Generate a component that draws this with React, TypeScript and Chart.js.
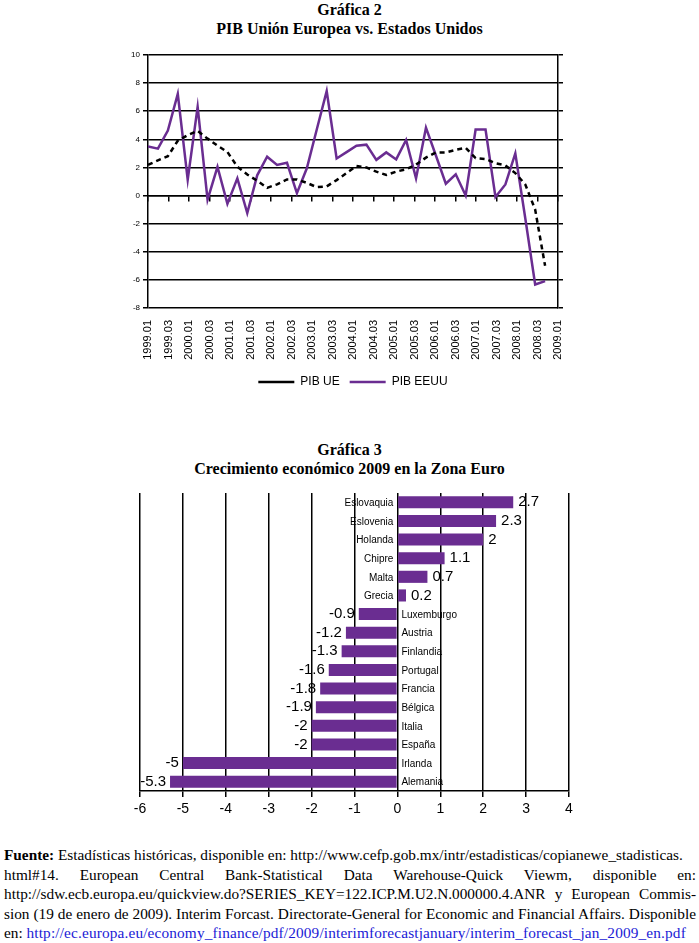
import React, { useEffect, useRef } from 'react';
import { Chart, registerables } from 'chart.js';

Chart.register(...registerables);

// ---------- Data: Gráfica 2 ----------
const quarterTickLabels = [
  '1999.01', '1999.03', '2000.01', '2000.03', '2001.01', '2001.03', '2002.01',
  '2002.03', '2003.01', '2003.03', '2004.01', '2004.03', '2005.01', '2005.03',
  '2006.01', '2006.03', '2007.01', '2007.03', '2008.01', '2008.03', '2009.01',
];

// quarterly values, 1999 Q1 .. 2009 Q1
const pibUE = [
  2.18, 2.5, 2.8, 3.9, 4.3, 4.6, 4.05, 3.55, 3.1, 2.05,
  1.5, 1.05, 0.55, 0.8, 1.15, 1.15, 0.9, 0.6, 0.65, 1.1,
  1.6, 2.1, 2.0, 1.7, 1.46, 1.7, 1.87, 2.2, 2.7, 3.07,
  3.07, 3.25, 3.4, 2.66, 2.6, 2.3, 2.15, 1.6, 0.8, -1.0,
  -5.0,
];
const pibEEUU = [
  3.5, 3.34, 4.63, 7.23, 1.13, 6.31, -0.29, 2.04, -0.58, 1.22,
  -1.25, 1.44, 2.76, 2.18, 2.33, 0.17, 1.94, 4.7, 7.43, 2.64,
  3.09, 3.55, 3.62, 2.54, 3.07, 2.57, 3.96, 1.22, 4.83, 2.85,
  0.84, 1.51, 0.0, 4.7, 4.7, -0.1, 0.79, 3.0, -1.6, -6.33,
  -6.09,
];

// ---------- Data: Gráfica 3 ----------
const countries = [
  'Eslovaquia', 'Eslovenia', 'Holanda', 'Chipre', 'Malta', 'Grecia',
  'Luxemburgo', 'Austria', 'Finlandia', 'Portugal', 'Francia', 'Bélgica',
  'Italia', 'España', 'Irlanda', 'Alemania',
];
const growth2009 = [
  2.7, 2.3, 2, 1.1, 0.7, 0.2, -0.9, -1.2, -1.3, -1.6, -1.8, -1.9, -2, -2, -5, -5.3,
];

const PURPLE = '#6a2d91';
const NARROW = '"Liberation Sans", Arial, sans-serif';
const SERIF = '"Liberation Serif", "Times New Roman", serif';
const X_AXIS_MAX = 41.3; // label axis spans slightly beyond last data point

function setQuarterTicks(scale: any) {
  const n = quarterTickLabels.length - 1;
  scale.ticks = quarterTickLabels.map((_, i) => ({ value: (i * X_AXIS_MAX) / n }));
}

function LineChart() {
  const ref = useRef<HTMLCanvasElement>(null);
  useEffect(() => {
    const chart = new Chart(ref.current!, {
      type: 'line',
      data: {
        datasets: [
          {
            label: 'PIB UE',
            data: pibUE.map((y, i) => ({ x: i, y })),
            borderColor: '#000',
            backgroundColor: '#000',
            borderWidth: 2.5,
            borderDash: [5, 4],
            pointRadius: 0,
            pointStyle: 'line',
            tension: 0,
            fill: false,
          },
          {
            label: 'PIB EEUU',
            data: pibEEUU.map((y, i) => ({ x: i, y })),
            borderColor: PURPLE,
            backgroundColor: PURPLE,
            borderWidth: 2.5,
            pointRadius: 0,
            pointStyle: 'line',
            tension: 0,
            fill: false,
          },
        ],
      },
      options: {
        responsive: false,
        animation: false,
        layout: { padding: { left: 0, right: 131, top: 15, bottom: 2 } },
        scales: {
          x: {
            type: 'linear',
            min: 0,
            max: X_AXIS_MAX,
            afterBuildTicks: setQuarterTicks,
            afterFit: (s: any) => { s.height = 58; },
            ticks: {
              autoSkip: false,
              maxRotation: 90,
              minRotation: 90,
              padding: 4,
              color: '#000',
              font: { family: NARROW, size: 11 },
              callback: (_v: any, i: number) => quarterTickLabels[i],
            },
            grid: { display: false },
            border: { display: false },
          },
          x2: {
            type: 'linear',
            position: { y: 0 } as any,
            min: 0,
            max: X_AXIS_MAX,
            afterBuildTicks: setQuarterTicks,
            ticks: { display: false },
            grid: { drawOnChartArea: false, drawTicks: true, tickLength: 5, color: '#000', lineWidth: 1.5 },
            border: { display: true, color: '#000', width: 1.5 },
          },
          y: {
            min: -8,
            max: 10,
            afterFit: (s: any) => { s.width = 148; },
            ticks: { stepSize: 2, color: '#000', padding: 3, font: { family: NARROW, size: 8 } },
            grid: { color: '#000', lineWidth: 1.5, tickLength: 5 },
            border: { color: '#000', width: 1.5 },
          },
          y2: {
            position: 'right',
            min: -8,
            max: 10,
            afterFit: (s: any) => { s.width = 10; },
            ticks: { display: false, stepSize: 2 },
            grid: { drawOnChartArea: false, color: '#000', lineWidth: 1.5, tickLength: 5 },
            border: { color: '#000', width: 1.5 },
          },
        },
        plugins: {
          legend: {
            position: 'bottom',
            fullSize: false,
            labels: {
              usePointStyle: true,
              pointStyleWidth: 36,
              color: '#000',
              padding: 10,
              font: { family: NARROW, size: 12 },
            },
          },
          tooltip: { enabled: false },
        },
      } as any,
    });
    return () => chart.destroy();
  }, []);
  return (
    <canvas
      ref={ref}
      width={699}
      height={360}
      style={{ position: 'absolute', left: 0, top: 40, width: 699, height: 360 }}
    />
  );
}

const barLabels = {
  id: 'barLabels',
  afterDatasetsDraw(chart: any) {
    const { ctx } = chart;
    const x = chart.scales.x;
    const zero = x.getPixelForValue(0);
    const meta = chart.getDatasetMeta(0);
    ctx.save();
    ctx.fillStyle = '#000';
    ctx.textBaseline = 'middle';
    meta.data.forEach((bar: any, i: number) => {
      const v = growth2009[i];
      ctx.font = `15px ${NARROW}`;
      if (v >= 0) {
        ctx.textAlign = 'left';
        ctx.fillText(String(v), bar.x + 5, bar.y);
      } else {
        ctx.textAlign = 'right';
        ctx.fillText(String(v), bar.x - 4, bar.y);
      }
      ctx.font = `10px ${NARROW}`;
      if (v >= 0) {
        ctx.textAlign = 'right';
        ctx.fillText(countries[i], zero - 4, bar.y + 1);
      } else {
        ctx.textAlign = 'left';
        ctx.fillText(countries[i], zero + 4, bar.y + 1);
      }
    });
    ctx.restore();
  },
};

function BarChart() {
  const ref = useRef<HTMLCanvasElement>(null);
  useEffect(() => {
    const chart = new Chart(ref.current!, {
      type: 'bar',
      data: {
        labels: countries,
        datasets: [
          {
            data: growth2009,
            backgroundColor: PURPLE,
            barPercentage: 0.65,
            categoryPercentage: 1,
          },
        ],
      },
      options: {
        indexAxis: 'y',
        responsive: false,
        animation: false,
        layout: { padding: { left: 140, right: 130, top: 8, bottom: 0 } },
        scales: {
          x: {
            min: -6,
            max: 4,
            afterFit: (s: any) => { s.height = 29; },
            ticks: { stepSize: 1, color: '#000', padding: 4, font: { family: NARROW, size: 14 } },
            grid: { color: '#000', lineWidth: 1.5, tickLength: 6 },
            border: { color: '#000', width: 1.5 },
          },
          y: { display: false },
        },
        plugins: { legend: { display: false }, tooltip: { enabled: false } },
      } as any,
      plugins: [barLabels],
    });
    return () => chart.destroy();
  }, []);
  return (
    <canvas
      ref={ref}
      width={699}
      height={335}
      style={{ position: 'absolute', left: 0, top: 485, width: 699, height: 335 }}
    />
  );
}

const titleStyle: React.CSSProperties = {
  position: 'absolute',
  left: 0,
  width: 699,
  textAlign: 'center',
  fontFamily: SERIF,
  fontWeight: 'bold',
  fontSize: 16,
  lineHeight: '19px',
  color: '#000',
};

const lineStyle = (i: number, justify: boolean): React.CSSProperties => ({
  position: 'absolute',
  left: 4,
  width: 692,
  top: 845 + i * 19.5,
  height: 19.5,
  lineHeight: '19.5px',
  fontFamily: SERIF,
  fontSize: 15.3,
  color: '#000',
  whiteSpace: 'nowrap',
  textAlign: justify ? 'justify' : 'left',
  textAlignLast: justify ? 'justify' : 'left',
  overflow: 'visible',
});

export default function App() {
  return (
    <div style={{ position: 'absolute', left: 0, top: 0, width: 699, height: 943, background: '#fff' }}>
      <div style={{ ...titleStyle, top: 0 }}>Gráfica 2</div>
      <div style={{ ...titleStyle, top: 19 }}>PIB Unión Europea vs. Estados Unidos</div>
      <LineChart />
      <div style={{ ...titleStyle, top: 440 }}>Gráfica 3</div>
      <div style={{ ...titleStyle, top: 459 }}>Crecimiento económico 2009 en la Zona Euro</div>
      <BarChart />
      <div style={lineStyle(0, false)}>
        <b>Fuente:</b> Estadísticas históricas, disponible en: http://www.cefp.gob.mx/intr/estadisticas/copianewe_stadisticas.
      </div>
      <div style={lineStyle(1, true)}>
        html#14. European Central Bank-Statistical Data Warehouse-Quick Viewm, disponible en:
      </div>
      <div style={lineStyle(2, true)}>
        http://sdw.ecb.europa.eu/quickview.do?SERIES_KEY=122.ICP.M.U2.N.000000.4.ANR y European Commis-
      </div>
      <div style={lineStyle(3, true)}>
        sion (19 de enero de 2009). Interim Forcast. Directorate-General for Economic and Financial Affairs. Disponible
      </div>
      <div style={lineStyle(4, false)}>
        en: <span style={{ color: '#1a1ad6', letterSpacing: '0.15px' }}>http://ec.europa.eu/economy_finance/pdf/2009/interimforecastjanuary/interim_forecast_jan_2009_en.pdf</span>
      </div>
    </div>
  );
}
